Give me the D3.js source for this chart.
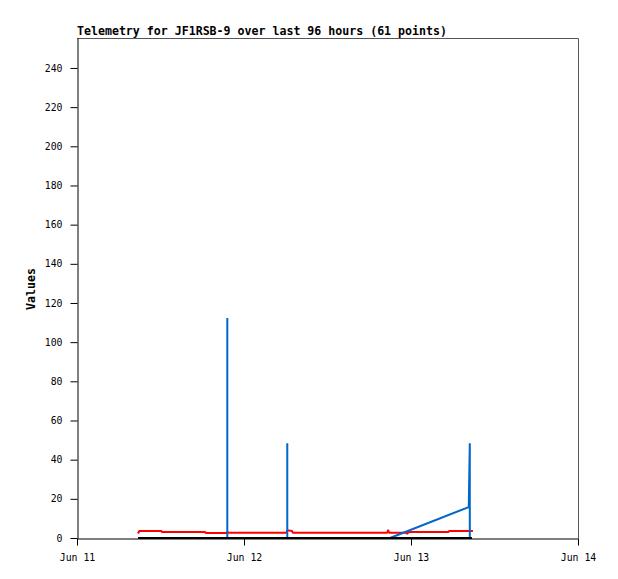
<!DOCTYPE html>
<html>
<head>
<meta charset="utf-8">
<script src="https://cdn.jsdelivr.net/npm/d3@7"></script>
<style>
  body { margin: 0; background: #fff; }
  svg { display: block; }
</style>
</head>
<body>
<svg id="chart" width="618" height="579"></svg>
<script>
// ---- data (hours since Jun 11 00:00) ----
const titleText = "Telemetry for JF1RSB-9 over last 96 hours (61 points)";
const yLabel = "Values";
const xTickHours = [0, 24, 48, 72];
const xTickLabels = ["Jun 11", "Jun 12", "Jun 13", "Jun 14"];
const yTicks = [0, 20, 40, 60, 80, 100, 120, 140, 160, 180, 200, 220, 240];

const redHours  = [8.77, 8.95, 12.1, 12.2, 18.4, 18.5, 21.5, 21.6, 21.75, 30.1, 30.2, 30.9, 31.0, 44.6, 44.7, 44.85, 47.3, 47.45, 47.7, 53.4, 53.5, 56.9];
const redValues = [2.3, 3.6, 3.6, 3.1, 3.1, 2.6, 2.6, 3.2, 2.7, 2.7, 4.0, 3.6, 2.7, 2.7, 4.1, 2.7, 2.7, 2.2, 3.1, 3.1, 3.6, 3.6];

const blueHours  = [8.77, 21.6, 21.6, 21.6, 30.22, 30.22, 30.22, 44.98, 56.3, 56.45, 56.45, 56.77];
const blueValues = [0, 0, 112.3, 0, 0, 48.4, 0, 0, 15.8, 48.4, 0, 0];

const blackHours  = [8.77, 56.77];
const blackValues = [0, 0];

// ---- layout ----
const svg = d3.select("#chart");
const L = 77, R = 578, T = 38, B = 538;

const x = d3.scaleLinear().domain([0, 72]).range([L, R]);
const y = d3.scaleLinear().domain([0, 255.3]).range([B, T]);

const mono = "'DejaVu Sans Mono', 'Liberation Mono', monospace";

// title
svg.append("text")
  .attr("x", L).attr("y", 34.5)
  .attr("font-family", mono).attr("font-weight", "bold").attr("font-size", "11.6px")
  .attr("fill", "#000")
  .text(titleText);

// frame (top & right)
svg.append("path")
  .attr("d", `M${L},${T + 0.5}H${R + 0.5}V${B}`)
  .attr("fill", "none").attr("stroke", "#555").attr("stroke-width", 1);

// y axis
const yAxis = svg.append("g")
  .attr("transform", `translate(${L + 0.5},0)`)
  .call(d3.axisLeft(y).tickValues(yTicks).tickSize(7).tickSizeOuter(0).tickPadding(8));
yAxis.select(".domain").attr("stroke", "#000");
yAxis.selectAll("text").attr("font-family", mono).attr("font-size", "9.8px").attr("fill", "#000");

// x axis
const xAxis = svg.append("g")
  .attr("transform", `translate(0,${B + 0.5})`)
  .call(d3.axisBottom(x).tickValues(xTickHours).tickFormat((d, i) => xTickLabels[i])
        .tickSize(7).tickSizeOuter(0).tickPadding(9));
xAxis.select(".domain").attr("stroke", "#000");
xAxis.selectAll("text").attr("font-family", mono).attr("font-size", "9.8px").attr("fill", "#000");

// y label
svg.append("text")
  .attr("transform", `translate(35,289) rotate(-90)`)
  .attr("text-anchor", "middle")
  .attr("font-family", mono).attr("font-weight", "bold").attr("font-size", "11.6px")
  .attr("fill", "#000")
  .text(yLabel);

// series
const line = d3.line().x(d => x(d[0])).y(d => y(d[1]));

function drawSeries(hours, values, color) {
  svg.append("path")
    .datum(hours.map((h, i) => [h, values[i]]))
    .attr("d", line)
    .attr("fill", "none")
    .attr("stroke", color)
    .attr("stroke-width", 2)
    .attr("stroke-linejoin", "bevel");
}
drawSeries(redHours, redValues, "#ff0000");
drawSeries(blueHours, blueValues, "#0066cc");
drawSeries(blackHours, blackValues, "#000000");
</script>
</body>
</html>
